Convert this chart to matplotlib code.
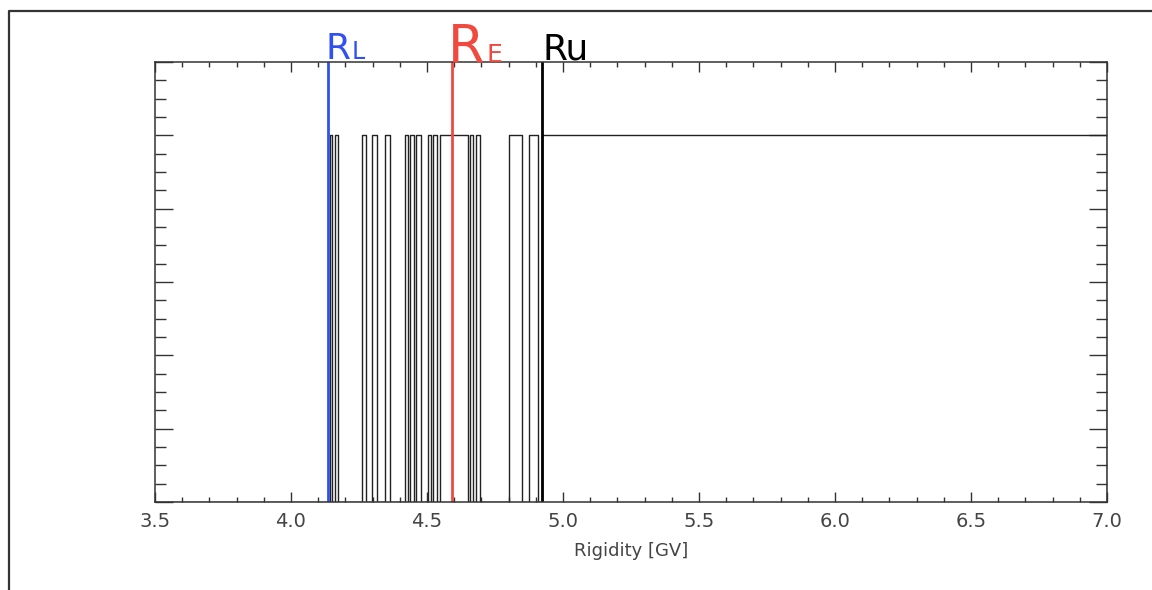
import matplotlib

matplotlib.use("Agg")
import matplotlib.pyplot as plt
from matplotlib.lines import Line2D
from matplotlib.ticker import AutoMinorLocator, MultipleLocator, NullFormatter

# Allowed-rigidity bands (GV): transmission is 1 inside, 0 outside.
band_start = [4.143, 4.162, 4.261, 4.298, 4.346, 4.419, 4.438, 4.460, 4.504,
              4.522, 4.548, 4.658, 4.680, 4.801, 4.875, 4.923]
band_end = [4.151, 4.173, 4.276, 4.316, 4.364, 4.430, 4.452, 4.478, 4.515,
            4.537, 4.651, 4.669, 4.695, 4.849, 4.908, 7.0]

# Cutoff markers
r_lower = 4.136
r_effective = 4.592
r_upper = 4.923

x_min, x_max = 3.5, 7.0
x_ticks = [3.5, 4.0, 4.5, 5.0, 5.5, 6.0, 6.5, 7.0]

BLUE = "#3050f2"
RED = "#f04a40"

# Build the step outline from the bands
xs = [x_min]
ys = [0.0]
for s, e in zip(band_start, band_end):
    xs += [s, s, e, e]
    ys += [0.0, 1.0, 1.0, 0.0]
xs.append(x_max)
ys.append(0.0)

fig = plt.figure(figsize=(11.52, 5.90), dpi=100)
ax = fig.add_axes([155 / 1152, 88 / 590, 952 / 1152, 440 / 590])

ax.plot(xs, ys, color="#222222", linewidth=1.0)
ax.axvline(r_lower, color=BLUE, linewidth=2.0)
ax.axvline(r_effective, color=RED, linewidth=2.0)
ax.axvline(r_upper, color="black", linewidth=2.0)

ax.set_xlim(x_min, x_max)
ax.set_ylim(0, 1.2)
ax.set_xticks(x_ticks)
ax.set_xticklabels([f"{t:.1f}" for t in x_ticks])
ax.xaxis.set_minor_locator(AutoMinorLocator(5))
ax.yaxis.set_major_locator(MultipleLocator(0.2))
ax.yaxis.set_minor_locator(AutoMinorLocator(4))
ax.yaxis.set_major_formatter(NullFormatter())

ax.tick_params(axis="both", which="both", direction="in", top=True, right=True,
               color="#333333")
ax.tick_params(axis="x", which="major", length=7, width=1.0, pad=7,
               labelsize=14, labelcolor="#444444")
ax.tick_params(axis="x", which="minor", length=3.6, width=1.0)
ax.tick_params(axis="y", which="major", length=13, width=1.0)
ax.tick_params(axis="y", which="minor", length=8, width=1.0)
for sp in ax.spines.values():
    sp.set_color("#333333")
    sp.set_linewidth(1.1)

ax.set_xlabel("Rigidity [GV]", fontsize=13, color="#444444", labelpad=8)

# Labels above the cutoff lines
trans = ("data", "axes fraction")
ax.annotate("R", (r_lower, 1.0), xycoords=trans, xytext=(-2, 2),
            textcoords="offset points", fontsize=26, color=BLUE,
            ha="left", va="baseline", annotation_clip=False)
ax.annotate("L", (r_lower, 1.0), xycoords=trans, xytext=(17, 2),
            textcoords="offset points", fontsize=17, color=BLUE,
            ha="left", va="baseline", annotation_clip=False)
ax.annotate("R", (r_effective, 1.0), xycoords=trans, xytext=(-3, 0),
            textcoords="offset points", fontsize=38, color=RED,
            ha="left", va="baseline", annotation_clip=False)
ax.annotate("E", (r_effective, 1.0), xycoords=trans, xytext=(25, 0),
            textcoords="offset points", fontsize=18, color=RED,
            ha="left", va="baseline", annotation_clip=False)
ax.annotate("Ru", (r_upper, 1.0), xycoords=trans, xytext=(0, 2),
            textcoords="offset points", fontsize=26, color="black",
            ha="left", va="baseline", annotation_clip=False)

# Frame fragment around the figure
fx = 9 / 1152
fy = 1 - 11 / 590
fig.add_artist(Line2D([fx, fx, 1.0], [0.0, fy, fy], transform=fig.transFigure,
                      color="#333333", linewidth=1.6))

fig.savefig("out.png", dpi=100)
